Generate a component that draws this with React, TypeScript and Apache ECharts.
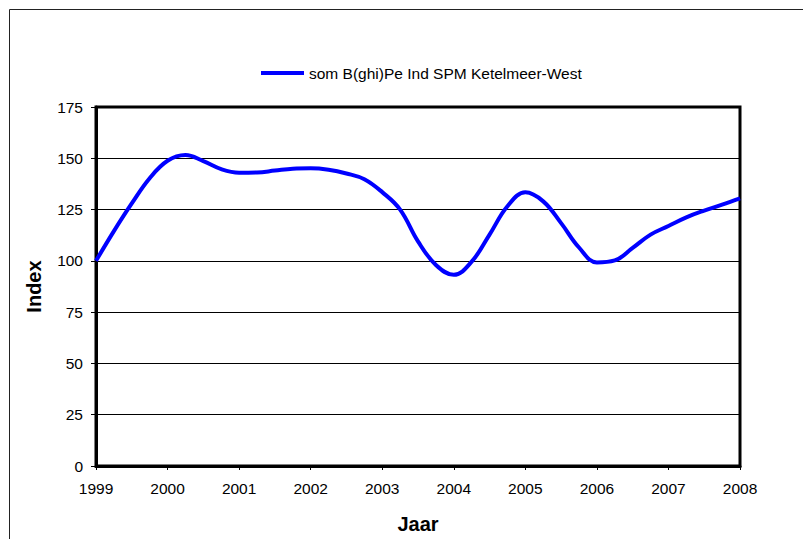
import React, { useEffect, useRef } from "react";
import * as echarts from "echarts";

const seriesName = "som B(ghi)Pe Ind SPM Ketelmeer-West";
const years = [
  1999, 1999.25, 1999.5, 1999.75,
  2000, 2000.25, 2000.5, 2000.75,
  2001, 2001.25, 2001.5, 2001.75,
  2002, 2002.25, 2002.5, 2002.75,
  2003, 2003.25, 2003.5, 2003.75,
  2004, 2004.25, 2004.5, 2004.75,
  2005, 2005.25, 2005.5, 2005.75,
  2006, 2006.25, 2006.5, 2006.75,
  2007, 2007.25, 2007.5, 2007.75,
  2008,
];
const indexValues = [
  100, 114.5, 128, 140.3,
  148.8, 151.6, 148.6, 144.7,
  143, 143.1, 144, 144.9,
  145.1, 144.4, 142.6, 139.8,
  133.5, 125, 109.5, 98,
  93.2, 99.6, 112.8, 126.6,
  133.4, 129, 118.4, 106.5,
  99.2, 100.2, 106.3, 112.8,
  117, 121.2, 124.5, 127.4,
  130.5,
];
const xTicks = { min: 1999, max: 2008, step: 1 };
const yTicks = { min: 0, max: 175, step: 25 };

export default function App() {
  const ref = useRef<HTMLDivElement>(null);
  useEffect(() => {
    if (!ref.current) return;
    const chart = echarts.init(ref.current, null, { renderer: "svg" });
    const font = "Liberation Sans, Arial, sans-serif";
    chart.setOption({
      animation: false,
      backgroundColor: "#fff",
      textStyle: { fontFamily: font },
      graphic: [
        {
          type: "rect",
          shape: { x: 9.5, y: 9.5, width: 820, height: 560 },
          style: { fill: "none", stroke: "#222", lineWidth: 1 },
          silent: true,
        },
      ],
      legend: {
        show: true,
        left: 256,
        top: 60,
        itemWidth: 43,
        itemHeight: 14,
        itemGap: 5,
        icon: "path://M0,5 L43,5 L43,9 L0,9 Z",
        textStyle: { fontFamily: font, fontSize: 15.5, color: "#000" },
        data: [{ name: seriesName, itemStyle: { color: "#0000ff" } }],
      },
      grid: {
        left: 96,
        top: 107,
        right: 63,
        bottom: 72,
        show: true,
        borderColor: "#000",
        borderWidth: 3,
        backgroundColor: "transparent",
      },
      xAxis: {
        type: "value",
        min: xTicks.min,
        max: xTicks.max,
        interval: xTicks.step,
        name: "Jaar",
        nameLocation: "middle",
        nameGap: 48,
        nameTextStyle: { fontFamily: font, fontSize: 20, fontWeight: "bold", color: "#000" },
        axisLine: { show: true, lineStyle: { color: "#000", width: 3 } },
        axisTick: { show: true, length: 4, lineStyle: { color: "#000", width: 1 } },
        axisLabel: {
          fontFamily: font,
          fontSize: 15.5,
          color: "#000",
          margin: 14,
          formatter: (v: number) => String(v),
        },
        splitLine: { show: false },
      },
      yAxis: {
        type: "value",
        min: yTicks.min,
        max: yTicks.max,
        interval: yTicks.step,
        name: "Index",
        nameLocation: "middle",
        nameGap: 52,
        nameTextStyle: { fontFamily: font, fontSize: 20, fontWeight: "bold", color: "#000" },
        axisLine: { show: true, lineStyle: { color: "#000", width: 3 } },
        axisTick: { show: true, length: 5, lineStyle: { color: "#000", width: 1 } },
        axisLabel: { fontFamily: font, fontSize: 15.5, color: "#000", margin: 13 },
        splitLine: { show: true, lineStyle: { color: "#000", width: 1 } },
      },
      series: [
        {
          name: seriesName,
          type: "line",
          data: years.map((y, i) => [y, indexValues[i]]),
          smooth: 0.4,
          showSymbol: false,
          symbol: "none",
          lineStyle: { color: "#0000ff", width: 4 },
          itemStyle: { color: "#0000ff" },
        },
      ],
    });
    return () => chart.dispose();
  }, []);
  return (
    <div
      ref={ref}
      style={{ position: "fixed", left: 0, top: 0, width: 803, height: 539 }}
    />
  );
}
